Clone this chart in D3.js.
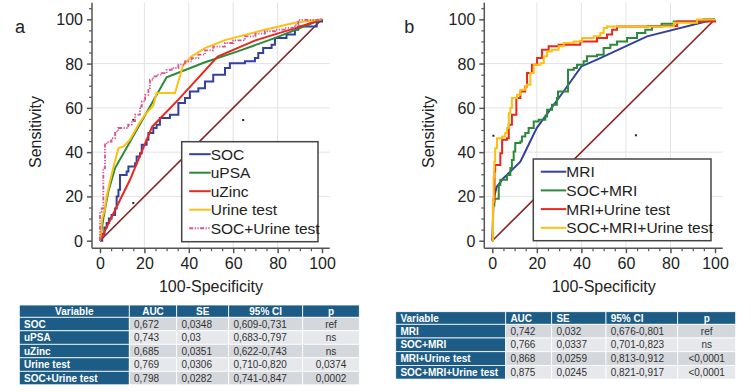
<!DOCTYPE html>
<html><head><meta charset="utf-8">
<script src="https://cdn.jsdelivr.net/npm/d3@7"></script>
<style>body{margin:0;background:#fff}svg{display:block;font-family:"Liberation Sans",Arial,sans-serif}</style>
</head><body><svg id="c" width="751" height="392"></svg>
<script>
// ---------- DATA ----------
const axisTicks = [0, 20, 40, 60, 80, 100];
const minorTicks = [5, 10, 15, 25, 30, 35, 45, 50, 55, 65, 70, 75, 85, 90, 95, 105];
const xLabel = "100-Specificity";
const yLabel = "Sensitivity";

// Panel a series ([100-specificity, sensitivity])
const socA = [[0,0],[1,3],[2,6],[3,8],[4,10],[5.2,11.6],[6.8,14.6],[7.5,20],[8.3,23],[9,29.7],[12,31.2],[12.8,33.5],[15.8,35],[16.5,38],[18,39.5],[18.8,43.3],[21,45.6],[21.8,48.6],[24,50.9],[25.5,52.4],[27,55.4],[31.5,56.9],[35.3,62.2],[38.3,64.4],[40.5,67.4],[44.3,68.9],[47.3,71.9],[51,75],[56.3,78],[58.5,80.2],[65.3,81],[69.8,82.5],[71.3,84.8],[73.5,87],[77.3,88.5],[78.8,91.6],[84,93.1],[87.8,95.3],[89.3,96.8],[97.6,99],[100,100]];
const upsaA = [[0,0],[1.5,10],[3.75,22.2],[6.8,32.8],[30,73.8],[47,80.5],[62,85.5],[79,91.6],[100,100]];
const uzincA = [[0,0],[13.5,27.5],[23.5,51.5],[35.3,63.7],[53,83.2],[70,90.5],[88,96],[100,100]];
const urineA = [[0,0],[0.5,5],[1,10],[2.25,14.6],[3,20],[4.5,26.7],[6,33],[8.3,41.8],[10.5,42.5],[13.5,45.6],[17.3,52.4],[20.3,57],[24,61],[25.5,66.7],[33.8,66.7],[37.5,79.5],[41.3,83.3],[47.3,87],[56.3,90.6],[74.3,95.3],[87.8,98.4],[100,100]];
const socUrineA = [[0,0],[0,13.1],[0.75,14.6],[1.5,22.2],[1.5,32.8],[2.25,38.8],[2.25,44],[3.75,44.8],[5.2,46.3],[6.8,49.3],[8.2,50.9],[12.7,52.4],[14.3,54],[15.8,56.9],[18,60.6],[18.8,62.9],[20.3,65.9],[21.8,68.9],[22.5,72.7],[24,74.2],[25.5,75],[27.8,75.7],[30,77.2],[32.3,78],[35.3,79.5],[38.3,81],[41.3,82.5],[44.3,84],[47.3,86],[51,87.7],[56.3,89.3],[60,90.5],[65.3,92.3],[70,93.5],[74.3,94.6],[79,95.3],[83.3,96.1],[87.8,97.6],[89.3,99.7],[96,99.7],[100,100]];
const dotsA = [[15,54.6],[15,17],[64.5,54.5]];

// Panel b series
const mriB = [[0,0],[0.6,19],[2,24.4],[5,28.2],[12.6,35.7],[20,51],[32,67.4],[40,78.7],[47,81.8],[69.5,92.3],[100,100]];
const socMriB = [[0,0],[0.3,16],[0.9,19],[2.9,25.2],[3.6,27.5],[6.6,29.7],[8.1,32.8],[8.8,36.5],[9.6,40.3],[10.3,44.1],[12.6,44.8],[13.3,47.1],[14.8,48.6],[16.3,50.9],[18.6,53.8],[20.8,54.6],[23.8,56.1],[24.6,59.1],[26.8,61.4],[29,64.4],[29.5,67.4],[34,77.2],[36.6,78],[38,79.5],[41,81],[42.5,83.3],[47,84],[50,87],[53,88.5],[56,90],[60.5,91.6],[65,93.8],[68.7,95.3],[71.7,96.8],[76,98],[81.5,99],[94.9,100],[100,100]];
const mriUrineB = [[0,0],[0.3,17.6],[1,31.2],[1.3,34.2],[3.6,39.5],[4.4,45.6],[6.6,46.3],[7.4,52.4],[8.8,56.9],[10.8,64.4],[12.6,67.4],[14.8,69.7],[15.6,75.7],[17.8,79.5],[20.1,82.5],[22.3,86.3],[25.3,87.8],[29.8,88.5],[39.5,90],[47,91.6],[51.5,93.1],[53.8,95.3],[56,96.8],[70,97],[83,99],[100,100]];
const socMriUrineB = [[0,0],[0.3,17.6],[0.6,28.7],[0.9,35.7],[1.3,41.8],[2.1,46.3],[4.4,47.1],[5.8,48.6],[6.6,50.9],[7.4,57.6],[8.1,59.9],[8.8,64.4],[11.1,65.9],[12.6,68.2],[14.8,69.7],[15.5,70.4],[17.1,75.7],[18.6,79.5],[21.6,80.2],[23.1,83.3],[24.6,85.5],[26.8,86.3],[29.8,87.8],[32.1,89.3],[36.6,90],[40.3,91.6],[45.5,92.3],[48.5,93.8],[50,96.1],[51.5,96.8],[69.5,96.8],[81.5,98.4],[91.9,99.9],[100,100]];
const dotsB = [[0.5,47.4],[0.5,16.6],[64.5,47.6]];

const reference = [[0,0],[100,100]];

// Tables
const tableHeader = ["Variable", "AUC", "SE", "95% CI", "p"];
const tableARows = [
  ["SOC", "0,672", "0,0348", "0,609-0,731", "ref"],
  ["uPSA", "0,743", "0,03", "0,683-0,797", "ns"],
  ["uZinc", "0,685", "0,0351", "0,622-0,743", "ns"],
  ["Urine test", "0,769", "0,0306", "0,710-0,820", "0,0374"],
  ["SOC+Urine test", "0,798", "0,0282", "0,741-0,847", "0,0002"]
];
const tableBRows = [
  ["MRI", "0,742", "0,032", "0,676-0,801", "ref"],
  ["SOC+MRI", "0,766", "0,0337", "0,701-0,823", "ns"],
  ["MRI+Urine test", "0,868", "0,0259", "0,813-0,912", "<0,0001"],
  ["SOC+MRI+Urine test", "0,875", "0,0245", "0,821-0,917", "<0,0001"]
];

// ---------- DRAW ----------
const svg = d3.select("#c");
const FONT = '"Liberation Sans", Arial, sans-serif';

function drawPanel(o) {
  const g = svg.append("g");
  const x = d3.scaleLinear().domain([0, 100]).range([o.x0, o.x1]);
  const y = d3.scaleLinear().domain([0, 100]).range([240.7, 19.3]);
  const axX = x(-3.6), axY = y(-3.4);
  const topY = y(107.5), rightX = x(103.5);

  // grid
  g.selectAll(".gv").data([20, 40, 60, 80]).join("line")
    .attr("x1", d => x(d)).attr("x2", d => x(d)).attr("y1", topY).attr("y2", axY)
    .attr("stroke", "#e3e3e3").attr("stroke-width", 1);
  g.selectAll(".gh").data([20, 40, 60, 80]).join("line")
    .attr("y1", d => y(d)).attr("y2", d => y(d)).attr("x1", axX).attr("x2", rightX)
    .attr("stroke", "#e3e3e3").attr("stroke-width", 1);

  // reference diagonal
  g.append("path").datum(reference)
    .attr("d", d3.line().x(d => x(d[0])).y(d => y(d[1])))
    .attr("fill", "none").attr("stroke", "#8b1e1e").attr("stroke-width", 1.6);

  // dots
  g.selectAll(".dt").data(o.dots).join("rect")
    .attr("x", d => x(d[0]) - 1).attr("y", d => y(d[1]) - 1)
    .attr("width", 2).attr("height", 2).attr("fill", "#222");

  // series
  o.series.forEach(s => {
    const line = d3.line().x(d => x(d[0])).y(d => y(d[1]))
      .curve(s.step ? d3.curveStepAfter : d3.curveLinear);
    g.append("path").datum(s.data).attr("d", line)
      .attr("fill", "none").attr("stroke", s.color).attr("stroke-width", s.width || 2)
      .attr("stroke-dasharray", s.dash || null).attr("stroke-linejoin", "miter");
  });

  // axes
  const ax = g.append("g").attr("stroke", "#555").attr("stroke-width", 1.5);
  ax.append("line").attr("x1", axX).attr("x2", axX).attr("y1", topY).attr("y2", axY);
  ax.append("line").attr("x1", axX).attr("x2", rightX).attr("y1", axY).attr("y2", axY);
  const yAxis = g.append("g").attr("transform", `translate(${axX},0)`)
    .call(d3.axisLeft(y).tickValues(axisTicks).tickSize(5).tickSizeOuter(0).tickPadding(4));
  yAxis.select(".domain").remove();
  yAxis.selectAll("line").attr("stroke", "#555").attr("stroke-width", 1.5);
  yAxis.selectAll("text").attr("font-size", 16).attr("font-family", FONT).attr("fill", "#222").attr("dy", "0.34em");
  const yMin = g.append("g").attr("transform", `translate(${axX},0)`)
    .call(d3.axisLeft(y).tickValues(minorTicks).tickSize(3).tickFormat(""));
  yMin.select(".domain").remove();
  yMin.selectAll("line").attr("stroke", "#555").attr("stroke-width", 1.2);

  const xAxis = g.append("g").attr("transform", `translate(0,${axY})`)
    .call(d3.axisBottom(x).tickValues(axisTicks).tickSize(5).tickSizeOuter(0).tickPadding(4));
  xAxis.select(".domain").remove();
  xAxis.selectAll("line").attr("stroke", "#555").attr("stroke-width", 1.5);
  xAxis.selectAll("text").attr("font-size", 16).attr("font-family", FONT).attr("fill", "#222");
  const xMin = g.append("g").attr("transform", `translate(0,${axY})`)
    .call(d3.axisBottom(x).tickValues(minorTicks.filter(v => v < 104)).tickSize(3).tickFormat(""));
  xMin.select(".domain").remove();
  xMin.selectAll("line").attr("stroke", "#555").attr("stroke-width", 1.2);

  // labels
  g.append("text").attr("x", (x(0) + x(100)) / 2).attr("y", 291.5).attr("text-anchor", "middle")
    .attr("font-size", 16).attr("fill", "#222").text(xLabel);
  g.append("text").attr("transform", `translate(${o.ylabX},132) rotate(-90)`).attr("text-anchor", "middle")
    .attr("font-size", 16).attr("fill", "#222").text(yLabel);
  g.append("text").attr("x", o.tagX).attr("y", 33.3).attr("font-size", 18).attr("fill", "#222").text(o.tag);

  // legend
  const L = o.legend;
  g.append("rect").attr("x", L.x).attr("y", L.y).attr("width", L.w).attr("height", L.h)
    .attr("fill", "#fff").attr("stroke", "#444").attr("stroke-width", 1.5);
  o.series.forEach((s, i) => {
    const cy = L.y + L.first + i * L.step;
    g.append("line").attr("x1", L.x + L.pad).attr("x2", L.x + L.pad + L.len)
      .attr("y1", cy).attr("y2", cy).attr("stroke", s.color).attr("stroke-width", 2)
      .attr("stroke-dasharray", s.dash || null);
    g.append("text").attr("x", L.x + L.pad + L.len).attr("y", cy).attr("dy", "0.36em")
      .attr("font-size", 15.5).attr("fill", "#222").text(s.name);
  });
}

drawPanel({
  x0: 100, x1: 322, tag: "a", tagX: 15, ylabX: 40.5, dots: dotsA,
  legend: { x: 181.7, y: 141.7, w: 136.3, h: 100, pad: 7.5, len: 21.5, first: 12.5, step: 18.5 },
  series: [
    { name: "SOC", data: socA, color: "#3340a0", step: true },
    { name: "uPSA", data: upsaA, color: "#2b8a3a" },
    { name: "uZinc", data: uzincA, color: "#e8281e" },
    { name: "Urine test", data: urineA, color: "#fdc010" },
    { name: "SOC+Urine test", data: socUrineA, color: "#e0508f", step: true, dash: "4,1.5,1.2,1.5,1.2,1.5", width: 1.8 }
  ]
});

drawPanel({
  x0: 492.3, x1: 715, tag: "b", tagX: 404.3, ylabX: 433.5, dots: dotsB,
  legend: { x: 533.3, y: 159, w: 177.7, h: 81.7, pad: 7.5, len: 25.5, first: 12.7, step: 18.7 },
  series: [
    { name: "MRI", data: mriB, color: "#3340a0" },
    { name: "SOC+MRI", data: socMriB, color: "#2b8a3a", step: true },
    { name: "MRI+Urine test", data: mriUrineB, color: "#e8281e", step: true },
    { name: "SOC+MRI+Urine test", data: socMriUrineB, color: "#fdc010", step: true }
  ]
});

function drawTable(t) {
  const g = svg.append("g").attr("font-family", FONT).attr("font-size", 10);
  const E = t.edges;
  const rowsAll = [tableHeader].concat(t.rows);
  rowsAll.forEach((row, r) => {
    const y0 = r === 0 ? t.y : t.y + t.headH + (r - 1) * t.rowH;
    const h = r === 0 ? t.headH : t.rowH;
    row.forEach((cell, c) => {
      const dark = r === 0 || c === 0;
      const fill = dark ? "#1d5c86" : ((r % 2 === 1) ? "#d4d7dc" : "#e6e8eb");
      g.append("rect").attr("x", E[c]).attr("y", y0).attr("width", E[c + 1] - E[c]).attr("height", h)
        .attr("fill", fill).attr("stroke", "#fff").attr("stroke-width", 0.8);
      let anchor = "start", tx = E[c] + 4.7;
      const centered = c === 4 || (r === 0 && t.headCenter);
      if (centered) { anchor = "middle"; tx = (E[c] + E[c + 1]) / 2; }
      g.append("text").attr("x", tx).attr("y", y0 + h / 2).attr("dy", "0.36em")
        .attr("text-anchor", anchor)
        .attr("font-weight", dark ? "bold" : "normal")
        .attr("fill", dark ? "#fff" : "#333").text(cell);
    });
  });
}

drawTable({ edges: [19.3, 129.3, 176.7, 228.7, 302.7, 359.3], y: 305, headH: 12.3, rowH: 13.5, rows: tableARows, headCenter: true });
drawTable({ edges: [395.7, 505.7, 551.7, 606, 677.7, 735.7], y: 311.7, headH: 12.6, rowH: 13.7, rows: tableBRows, headCenter: false });
</script></body></html>
